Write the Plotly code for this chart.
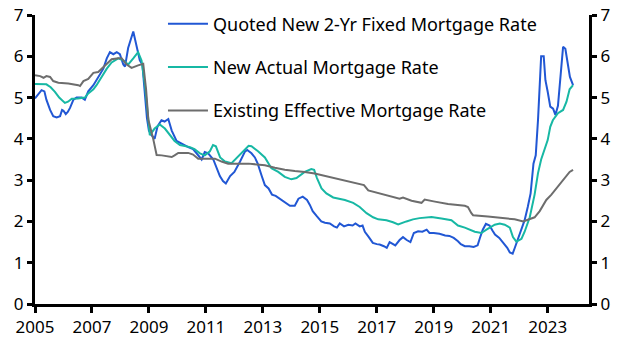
import plotly.graph_objects as go

# ---- data (decimal years, %) ----
quoted_x = [2005.00, 2005.12, 2005.23, 2005.33, 2005.40, 2005.53, 2005.64, 2005.76, 2005.88, 2005.95,
            2006.00, 2006.08, 2006.15, 2006.23, 2006.35, 2006.46, 2006.64, 2006.75, 2006.87, 2007.05,
            2007.22, 2007.40, 2007.52, 2007.63, 2007.75, 2007.87, 2007.98, 2008.10, 2008.16, 2008.27,
            2008.45, 2008.57, 2008.68, 2008.77, 2008.86, 2008.93, 2009.00, 2009.08, 2009.20, 2009.30,
            2009.44, 2009.55, 2009.68, 2009.80, 2009.97, 2010.15, 2010.38, 2010.55, 2010.73, 2010.85,
            2010.96, 2011.08, 2011.26, 2011.38, 2011.49, 2011.60, 2011.70, 2011.85, 2012.00, 2012.20,
            2012.37, 2012.45, 2012.60, 2012.72, 2012.82, 2012.96, 2013.07, 2013.20, 2013.32, 2013.45,
            2013.60, 2013.78, 2013.95, 2014.12, 2014.25, 2014.40, 2014.55, 2014.65, 2014.75, 2014.90,
            2015.05, 2015.18, 2015.35, 2015.50, 2015.60, 2015.70, 2015.85, 2016.00, 2016.15, 2016.25,
            2016.40, 2016.50, 2016.58, 2016.72, 2016.86, 2017.00, 2017.10, 2017.25, 2017.35, 2017.45,
            2017.55, 2017.65, 2017.80, 2017.92, 2018.05, 2018.18, 2018.30, 2018.45, 2018.60, 2018.75,
            2018.85, 2019.00, 2019.20, 2019.40, 2019.55, 2019.70, 2019.85, 2019.95, 2020.09, 2020.25,
            2020.40, 2020.54, 2020.62, 2020.72, 2020.83, 2020.96, 2021.06, 2021.15, 2021.30, 2021.45,
            2021.58, 2021.67, 2021.77, 2021.84, 2021.95, 2022.05, 2022.19, 2022.30, 2022.40, 2022.50,
            2022.58, 2022.66, 2022.77, 2022.86, 2022.92, 2023.00, 2023.09, 2023.19, 2023.27, 2023.36,
            2023.48, 2023.54, 2023.62, 2023.71, 2023.78, 2023.89]
quoted_y = [4.98, 5.10, 5.18, 5.15, 4.95, 4.70, 4.55, 4.52, 4.55, 4.70,
            4.68, 4.60, 4.65, 4.75, 4.95, 5.00, 5.00, 4.95, 5.15, 5.30,
            5.50, 5.70, 5.95, 6.10, 6.05, 6.10, 6.05, 5.80, 5.75, 6.20,
            6.60, 6.20, 5.90, 5.80, 5.00, 4.50, 4.20, 4.10, 4.00, 4.30,
            4.45, 4.42, 4.48, 4.20, 3.95, 3.88, 3.80, 3.75, 3.60, 3.50,
            3.68, 3.65, 3.50, 3.30, 3.10, 2.98, 2.92, 3.10, 3.20, 3.45,
            3.69, 3.73, 3.65, 3.55, 3.40, 3.10, 2.88, 2.80, 2.65, 2.62,
            2.55, 2.45, 2.38, 2.38, 2.55, 2.60, 2.52, 2.40, 2.25, 2.12,
            2.00, 1.97, 1.95, 1.88, 1.85, 1.95, 1.88, 1.92, 1.90, 1.95,
            1.88, 1.90, 1.75, 1.62, 1.48, 1.45, 1.44, 1.40, 1.36, 1.50,
            1.45, 1.42, 1.55, 1.62, 1.55, 1.50, 1.72, 1.76, 1.75, 1.80,
            1.72, 1.72, 1.70, 1.66, 1.65, 1.60, 1.52, 1.45, 1.40, 1.40,
            1.38, 1.42, 1.60, 1.80, 1.94, 1.90, 1.78, 1.68, 1.60, 1.48,
            1.36, 1.25, 1.22, 1.35, 1.55, 1.75, 2.03, 2.35, 2.68, 3.40,
            3.60, 4.46, 6.00, 6.00, 5.42, 5.14, 4.78, 4.73, 4.58, 4.80,
            5.67, 6.23, 6.18, 5.83, 5.50, 5.30]

actual_x = [2005.00, 2005.20, 2005.40, 2005.55, 2005.70, 2005.85, 2005.94, 2006.05, 2006.16, 2006.29,
            2006.50, 2006.75, 2006.87, 2007.05, 2007.16, 2007.34, 2007.52, 2007.69, 2007.92, 2008.10,
            2008.27, 2008.45, 2008.62, 2008.74, 2008.86, 2008.96, 2009.03, 2009.20, 2009.38, 2009.56,
            2009.73, 2009.90, 2010.09, 2010.44, 2010.60, 2010.79, 2010.96, 2011.14, 2011.25, 2011.35,
            2011.50, 2011.67, 2011.90, 2012.13, 2012.25, 2012.40, 2012.50, 2012.60, 2012.83, 2013.07,
            2013.30, 2013.54, 2013.77, 2014.00, 2014.18, 2014.47, 2014.70, 2014.80, 2014.90, 2015.06,
            2015.23, 2015.47, 2015.70, 2015.88, 2016.17, 2016.40, 2016.64, 2016.87, 2017.05, 2017.34,
            2017.57, 2017.75, 2018.04, 2018.27, 2018.50, 2018.92, 2019.27, 2019.62, 2019.85, 2020.09,
            2020.44, 2020.67, 2020.85, 2021.14, 2021.32, 2021.49, 2021.67, 2021.78, 2021.90, 2022.08,
            2022.19, 2022.37, 2022.54, 2022.66, 2022.77, 2022.89, 2023.00, 2023.09, 2023.18, 2023.36,
            2023.54, 2023.66, 2023.77, 2023.89]
actual_y = [5.33, 5.33, 5.32, 5.25, 5.14, 5.00, 4.94, 4.87, 4.90, 4.97,
            4.98, 5.00, 5.10, 5.20, 5.30, 5.50, 5.70, 5.85, 5.95, 5.90,
            5.80, 5.95, 6.10, 5.90, 5.30, 4.60, 4.09, 4.25, 4.35, 4.25,
            4.10, 3.95, 3.85, 3.80, 3.75, 3.65, 3.60, 3.70, 3.85, 3.82,
            3.55, 3.45, 3.41, 3.58, 3.65, 3.78, 3.83, 3.82, 3.70, 3.55,
            3.29, 3.20, 3.08, 3.02, 3.05, 3.20, 3.27, 3.25, 3.05, 2.80,
            2.68, 2.58, 2.55, 2.52, 2.45, 2.35, 2.20, 2.10, 2.05, 2.03,
            1.98, 1.93, 2.00, 2.05, 2.08, 2.11, 2.07, 2.03, 1.90, 1.85,
            1.75, 1.72, 1.80, 1.92, 1.95, 1.92, 1.85, 1.62, 1.51, 1.58,
            1.75, 2.10, 2.65, 3.17, 3.50, 3.73, 3.97, 4.29, 4.45, 4.62,
            4.70, 4.90, 5.20, 5.30]

existing_x = [2005.00, 2005.18, 2005.30, 2005.40, 2005.53, 2005.64, 2005.82, 2006.17, 2006.52, 2006.58,
              2006.70, 2006.87, 2007.05, 2007.22, 2007.34, 2007.52, 2007.69, 2007.92, 2008.04, 2008.22,
              2008.39, 2008.62, 2008.80, 2008.90, 2008.98, 2009.15, 2009.27, 2009.45, 2009.68, 2009.80,
              2009.90, 2010.03, 2010.38, 2010.55, 2010.73, 2011.32, 2011.55, 2011.78, 2012.50, 2013.07,
              2013.42, 2013.77, 2014.12, 2014.47, 2014.82, 2015.18, 2015.58, 2016.17, 2016.55, 2016.70,
              2017.10, 2017.46, 2017.80, 2017.92, 2018.22, 2018.57, 2018.68, 2019.04, 2019.50, 2020.09,
              2020.20, 2020.32, 2020.38, 2020.90, 2021.38, 2021.84, 2022.14, 2022.31, 2022.54, 2022.72,
              2022.95, 2023.13, 2023.30, 2023.54, 2023.77, 2023.89]
existing_y = [5.54, 5.52, 5.48, 5.52, 5.50, 5.40, 5.36, 5.34, 5.30, 5.28,
              5.40, 5.45, 5.60, 5.62, 5.70, 5.82, 5.93, 5.95, 5.95, 5.80,
              5.72, 5.78, 5.82, 5.20, 4.46, 4.00, 3.61, 3.60, 3.58, 3.56,
              3.60, 3.66, 3.66, 3.62, 3.52, 3.52, 3.45, 3.40, 3.40, 3.36,
              3.30, 3.25, 3.22, 3.20, 3.16, 3.10, 3.05, 2.95, 2.88, 2.75,
              2.68, 2.60, 2.55, 2.58, 2.50, 2.45, 2.53, 2.48, 2.42, 2.38,
              2.35, 2.20, 2.15, 2.12, 2.08, 2.05, 2.00, 2.04, 2.10, 2.25,
              2.52, 2.65, 2.80, 3.00, 3.20, 3.25]

series_names = ["Quoted New 2-Yr Fixed Mortgage Rate",
                "New Actual Mortgage Rate",
                "Existing Effective Mortgage Rate"]
x_ticks = [2005, 2007, 2009, 2011, 2013, 2015, 2017, 2019, 2021, 2023]
y_ticks = [0, 1, 2, 3, 4, 5, 6, 7]

colors = ["#2157d4", "#17b8a4", "#6d6d6d"]
FONT = "Noto Sans"

fig = go.Figure()
for i, (xs, ys) in enumerate([(quoted_x, quoted_y), (actual_x, actual_y), (existing_x, existing_y)]):
    fig.add_trace(go.Scatter(x=xs, y=ys, mode="lines", name=series_names[i],
                             legendgroup=f"g{i}",
                             line=dict(color=colors[i], width=2)))
# invisible trace to activate right axis
fig.add_trace(go.Scatter(x=[existing_x[0]], y=[existing_y[0]], yaxis="y2", mode="lines",
                         showlegend=False, hoverinfo="skip", line=dict(color="rgba(0,0,0,0)")))

axis_common = dict(showgrid=False, zeroline=False, showline=True, linecolor="black", linewidth=3,
                   ticks="outside", tickcolor="black", tickwidth=3, automargin=False,
                   tickfont=dict(family=FONT, size=17, color="black"))

fig.update_layout(
    width=629, height=354,
    margin=dict(l=35, r=40, t=15, b=50, autoexpand=False),
    paper_bgcolor="white", plot_bgcolor="white",
    font=dict(family=FONT, size=17, color="black"),
    xaxis=dict(range=[2005, 2024.45], tickvals=x_ticks, ticklen=6, **axis_common),
    yaxis=dict(range=[0, 7], tickvals=y_ticks, ticklen=5, **axis_common),
    yaxis2=dict(range=[0, 7], tickvals=y_ticks, ticklen=5, overlaying="y", side="right", **axis_common),
    legend=dict(x=0.231, y=1.033, xanchor="left", yanchor="top", bgcolor="rgba(0,0,0,0)",
                traceorder="grouped", tracegroupgap=17, itemwidth=40,
                font=dict(family=FONT, size=18, color="black")),
    showlegend=True,
)

fig.write_html("out.html")
